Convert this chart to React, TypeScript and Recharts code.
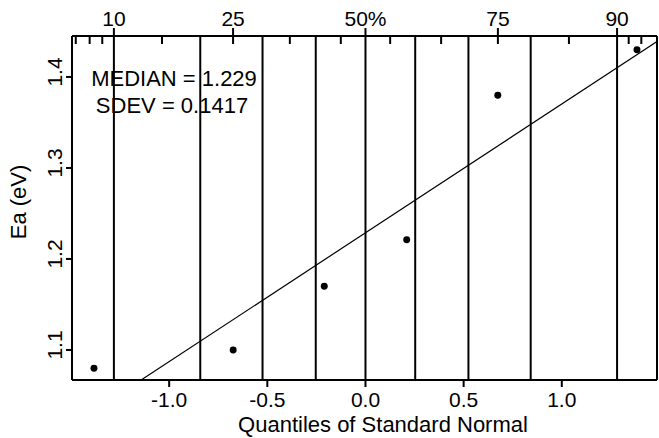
import { ComposedChart, XAxis, YAxis, ZAxis, Scatter, Line, ReferenceLine } from 'recharts';

// normal quantiles (i - 0.5) / n for the six samples, and the measured Ea
const QUANTILES = [-1.383, -0.674, -0.21, 0.21, 0.674, 1.383];
const EA_VALUES = [1.08, 1.1, 1.17, 1.221, 1.38, 1.43];

// fitted line, clipped to the plot frame
const FIT_Q = [-1.143, 1.485];
const FIT_EA = [1.067, 1.439];

const MEDIAN = '1.229';
const SDEV = '0.1417';

const X_DOMAIN: [number, number] = [-1.495, 1.485];
const Y_DOMAIN: [number, number] = [1.067, 1.445];

const BOTTOM_TICKS = [-1.0, -0.5, 0.0, 0.5, 1.0];
const Y_TICKS = [1.1, 1.2, 1.3, 1.4];

// percent scale on top, placed at the normal quantile of each percent
const TOP_LABELS = ['10', '25', '50%', '75', '90'];
const TOP_MAJOR_Z = [-1.2816, -0.6745, 0, 0.6745, 1.2816];
const TOP_MINOR_Z = [
  -1.4758, -1.4051, -1.3408, -1.0364, -0.6745, -0.3853, -0.1257,
  0.1257, 0.3853, 0.6745, 1.0364, 1.3408, 1.4051,
];
// 10%, 20%, ... 90%
const GRID_Z = [-1.2816, -0.8416, -0.5244, -0.2533, 0, 0.2533, 0.5244, 0.8416, 1.2816];

// inward tick length under the top frame, in Ea units (about 8px)
const MINOR_LEN = 0.0088;

const FONT = '"Liberation Sans", Arial, Helvetica, sans-serif';
const INK = '#000';

const points = QUANTILES.map((q, i) => ({ q, ea: EA_VALUES[i] }));
const fit = FIT_Q.map((q, i) => ({ q, ea: FIT_EA[i] }));

const noMark = () => <g />;

const textBox = {
  position: 'absolute' as const,
  fontFamily: FONT,
  fontSize: 22,
  lineHeight: '22px',
  color: INK,
  textAlign: 'center' as const,
  whiteSpace: 'nowrap' as const,
};

export default function App() {
  return (
    <div style={{ position: 'absolute', left: 0, top: 0, width: 659, height: 438, background: '#fff' }}>
      <ComposedChart width={659} height={438} margin={{ top: 0, right: 0, bottom: 0, left: 0 }}>
        <XAxis
          xAxisId="bottom"
          type="number"
          dataKey="q"
          domain={X_DOMAIN}
          allowDataOverflow
          ticks={BOTTOM_TICKS}
          tickFormatter={(v: number) => v.toFixed(1)}
          height={58}
          tickSize={7}
          tickMargin={5}
          tick={{ fill: INK, fontSize: 21, fontFamily: FONT }}
          axisLine={{ stroke: INK, strokeWidth: 2 }}
          tickLine={{ stroke: INK, strokeWidth: 2 }}
        />
        <XAxis
          xAxisId="top"
          orientation="top"
          type="number"
          dataKey="q"
          domain={X_DOMAIN}
          allowDataOverflow
          ticks={TOP_MAJOR_Z}
          tickFormatter={(v: number) => TOP_LABELS[TOP_MAJOR_Z.indexOf(v)]}
          height={36}
          tickSize={8}
          tickMargin={2}
          tick={{ fill: INK, fontSize: 21, fontFamily: FONT }}
          axisLine={{ stroke: INK, strokeWidth: 2 }}
          tickLine={{ stroke: INK, strokeWidth: 2 }}
        />
        <YAxis
          yAxisId="left"
          type="number"
          domain={Y_DOMAIN}
          allowDataOverflow
          ticks={Y_TICKS}
          tickFormatter={(v: number) => v.toFixed(1)}
          width={72}
          tickSize={6}
          tickMargin={11.5}
          tick={{
            fill: INK,
            fontSize: 21,
            fontFamily: FONT,
            angle: -90,
            textAnchor: 'middle',
            dy: -5,
          }}
          axisLine={{ stroke: INK, strokeWidth: 2 }}
          tickLine={{ stroke: INK, strokeWidth: 2 }}
        />
        <YAxis
          yAxisId="right"
          orientation="right"
          type="number"
          domain={Y_DOMAIN}
          allowDataOverflow
          width={2}
          tick={false}
          tickLine={false}
          axisLine={{ stroke: INK, strokeWidth: 2 }}
        />
        <ZAxis range={[38, 38]} />
        {GRID_Z.map((z) => (
          <ReferenceLine key={`g${z}`} x={z} xAxisId="bottom" yAxisId="left" stroke={INK} strokeWidth={2} />
        ))}
        {TOP_MINOR_Z.map((z) => (
          <ReferenceLine
            key={`m${z}`}
            xAxisId="bottom"
            yAxisId="left"
            ifOverflow="visible"
            segment={[
              { x: z, y: Y_DOMAIN[1] },
              { x: z, y: Y_DOMAIN[1] - MINOR_LEN },
            ]}
            stroke={INK}
            strokeWidth={2}
          />
        ))}
        <Line
          data={fit}
          xAxisId="bottom"
          yAxisId="left"
          dataKey="ea"
          type="linear"
          stroke={INK}
          strokeWidth={1.2}
          dot={false}
          isAnimationActive={false}
        />
        <Scatter data={points} xAxisId="bottom" yAxisId="left" dataKey="ea" fill={INK} isAnimationActive={false} />
        {/* invisible series so the top axis gets a scale */}
        <Scatter data={points} xAxisId="top" yAxisId="left" dataKey="ea" isAnimationActive={false} shape={noMark} />
      </ComposedChart>

      <div style={{ ...textBox, left: 24, top: 68, width: 300 }}>MEDIAN = {MEDIAN}</div>
      <div style={{ ...textBox, left: 22, top: 95, width: 300 }}>SDEV = {SDEV}</div>
      <div style={{ ...textBox, left: 183, top: 414, width: 400 }}>Quantiles of Standard Normal</div>
      <div style={{ ...textBox, left: -41, top: 191, width: 120, height: 22, transform: 'rotate(-90deg)' }}>Ea (eV)</div>
    </div>
  );
}
